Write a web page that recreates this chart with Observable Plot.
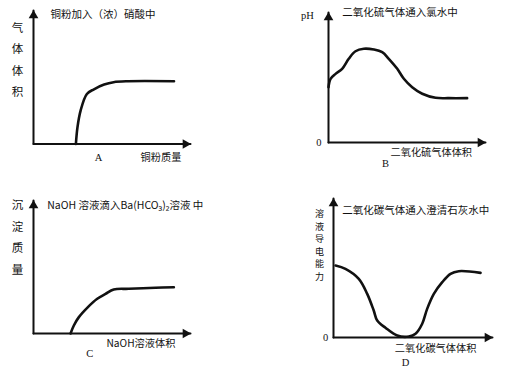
<!DOCTYPE html>
<html>
<head>
<meta charset="utf-8">
<script src="https://cdn.jsdelivr.net/npm/d3@7"></script>
<script src="https://cdn.jsdelivr.net/npm/@observablehq/plot@0.6"></script>
<style>
  html, body { margin: 0; padding: 0; background: #fff; }
  #wrap { position: relative; width: 509px; height: 371px; overflow: hidden; background: #fff; }
  #wrap svg { position: absolute; }
</style>
</head>
<body>
<div id="wrap"></div>
<script>
// ---- Data (abstract units, 0..10 on each axis) ----
const curveA_x = [2.7, 2.8, 3.0, 3.4, 3.85, 4.5, 5.1, 6.0, 8.95];
const curveA_y = [0, 1.25, 2.5, 3.75, 4.1, 4.45, 4.63, 4.7, 4.7];

const curveB_x = [0, 0.13, 0.45, 0.87, 1.29, 1.72, 2.25, 2.89, 3.42, 3.84, 4.38, 4.8, 5.33, 5.97, 6.82, 7.66, 8.83];
const curveB_y = [4.25, 4.9, 5.28, 5.67, 6.44, 7.02, 7.21, 7.15, 6.95, 6.44, 5.67, 4.9, 4.25, 3.75, 3.44, 3.41, 3.41];

const curveC_x = [2.36, 2.57, 2.89, 3.42, 4.06, 4.59, 5.11, 6.07, 7.77, 8.94];
const curveC_y = [0, 0.6, 1.23, 1.93, 2.61, 2.98, 3.31, 3.36, 3.44, 3.48];

const curveD_x = [0.13, 0.75, 1.59, 2.12, 2.53, 2.75, 3.27, 4.01, 4.74, 5.16, 5.58, 5.89, 6.31, 6.84, 7.36, 7.88, 9.25];
const curveD_y = [5.18, 4.94, 4.22, 3.14, 1.94, 1.22, 0.7, 0.14, 0.07, 0.27, 0.99, 2.06, 3.14, 3.98, 4.58, 4.77, 4.65];

const titles = ["铜粉加入（浓）硝酸中", "二氧化硫气体通入氯水中", "NaOH 溶液滴入Ba(HCO₃)₂溶液 中", "二氧化碳气体通入澄清石灰水中"];
const yLabels = ["气体体积", "pH", "沉淀质量", "溶液导电能力"];
const xLabels = ["铜粉质量", "二氧化硫气体体积", "NaOH溶液体积", "二氧化碳气体体积"];
const panelLetters = ["A", "B", "C", "D"];
const zeroLabel = "0";

const CJK = "'Noto Sans CJK SC', 'Noto Sans', sans-serif";
const SERIF = "'Liberation Serif', 'DejaVu Serif', serif";

function zip(xs, ys) { return xs.map((x, i) => ({x, y: ys[i]})); }

function panel(cfg) {
  const marks = [
    // axes with arrow heads
    Plot.line([{x:0,y:0},{x:0,y:10}], {x:"x", y:"y", stroke:"#111", strokeWidth:2}),
    Plot.line([{x:0,y:0},{x:10,y:0}], {x:"x", y:"y", stroke:"#111", strokeWidth:2}),
    Plot.dot([{x:0,y:10}], {x:"x", y:"y", symbol:"triangle", r:3.6, fill:"#111", stroke:"none", dy:5}),
    Plot.dot([{x:10,y:0}], {x:"x", y:"y", symbol:"triangle", r:3.6, fill:"#111", stroke:"none", rotate:90, dx:-5}),
    // curve
    Plot.line(cfg.curve, {x:"x", y:"y", stroke:"#111", strokeWidth:2.6, curve:"catmull-rom", strokeLinecap:"round", strokeLinejoin:"round"}),
    // title
    Plot.text([cfg.title], {x: cfg.titlePos[0], y: cfg.titlePos[1], text: d => d, textAnchor:"start", fontSize:10.5, fill:"#111", fontFamily:CJK}),
    // x label
    Plot.text([cfg.xLabel], {x: cfg.xLabelPos[0], y: cfg.xLabelPos[1], text: d => d, textAnchor:"start", fontSize:10.2, fill:"#111", fontFamily:CJK}),
    // letter
    Plot.text([cfg.letter], {x: cfg.letterPos[0], y: cfg.letterPos[1], text: d => d, fontSize:10.5, fill:"#111", fontFamily:SERIF}),
    // y label
    Plot.text([cfg.yLabel], {x: cfg.yLabelPos[0], y: cfg.yLabelPos[1], text: d => cfg.vertical ? d.split("").join("\n") : d,
      fontSize: cfg.yFont, lineHeight: cfg.yLine, lineAnchor:"middle", fill:"#111", fontFamily: cfg.vertical ? CJK : SERIF})
  ];
  if (cfg.zeroPos) {
    marks.push(Plot.text([zeroLabel], {x: cfg.zeroPos[0], y: cfg.zeroPos[1], text: d => d, fontSize:10.5, fill:"#111", fontFamily:SERIF}));
  }
  const svg = Plot.plot({
    width: cfg.width, height: cfg.height,
    marginLeft: cfg.m[0], marginRight: cfg.m[1], marginTop: cfg.m[2], marginBottom: cfg.m[3],
    x: {domain:[0,10], axis:null},
    y: {domain:[0,10], axis:null},
    style: {background:"transparent", overflow:"visible"},
    marks
  });
  svg.style.left = cfg.left + "px";
  svg.style.top = cfg.top + "px";
  svg.style.overflow = "visible";
  return svg;
}

const wrap = document.getElementById("wrap");
wrap.appendChild(panel({
  left:0, top:0, width:254, height:180, m:[33, 64, 10, 36.5],
  curve: zip(curveA_x, curveA_y),
  title: titles[0], titlePos:[1.08, 9.72],
  xLabel: xLabels[0], xLabelPos:[6.82, -1.0],
  letter: panelLetters[0], letterPos:[4.14, -1.0],
  yLabel: yLabels[0], yLabelPos:[-1.02, 6.5], vertical:true, yFont:11.5, yLine:1.85
}));
wrap.appendChild(panel({
  left:255, top:0, width:254, height:180, m:[73, 24, 12, 38],
  curve: zip(curveB_x, curveB_y),
  title: titles[1], titlePos:[0.87, 10.0],
  xLabel: xLabels[1], xLabelPos:[3.95, -0.75],
  letter: panelLetters[1], letterPos:[3.63, -1.64],
  yLabel: yLabels[1], yLabelPos:[-1.34, 9.77], vertical:false, yFont:10.5, yLine:1,
  zeroPos:[-0.62, 0]
}));
wrap.appendChild(panel({
  left:0, top:180, width:254, height:191, m:[33, 64, 20, 38],
  curve: zip(curveC_x, curveC_y),
  title: titles[2], titlePos:[0.87, 9.62],
  xLabel: xLabels[2], xLabelPos:[4.65, -0.78],
  letter: panelLetters[2], letterPos:[3.59, -1.48],
  yLabel: yLabels[2], yLabelPos:[-1.02, 7.44], vertical:true, yFont:11.5, yLine:1.88
}));
wrap.appendChild(panel({
  left:255, top:180, width:254, height:191, m:[78, 17, 18, 34],
  curve: zip(curveD_x, curveD_y),
  title: titles[3], titlePos:[0.55, 9.14],
  xLabel: xLabels[3], xLabelPos:[3.86, -0.81],
  letter: panelLetters[3], letterPos:[4.53, -1.78],
  yLabel: yLabels[3], yLabelPos:[-0.88, 6.69], vertical:true, yFont:9, yLine:1.4,
  zeroPos:[-0.5, 0]
}));
</script>
</body>
</html>
